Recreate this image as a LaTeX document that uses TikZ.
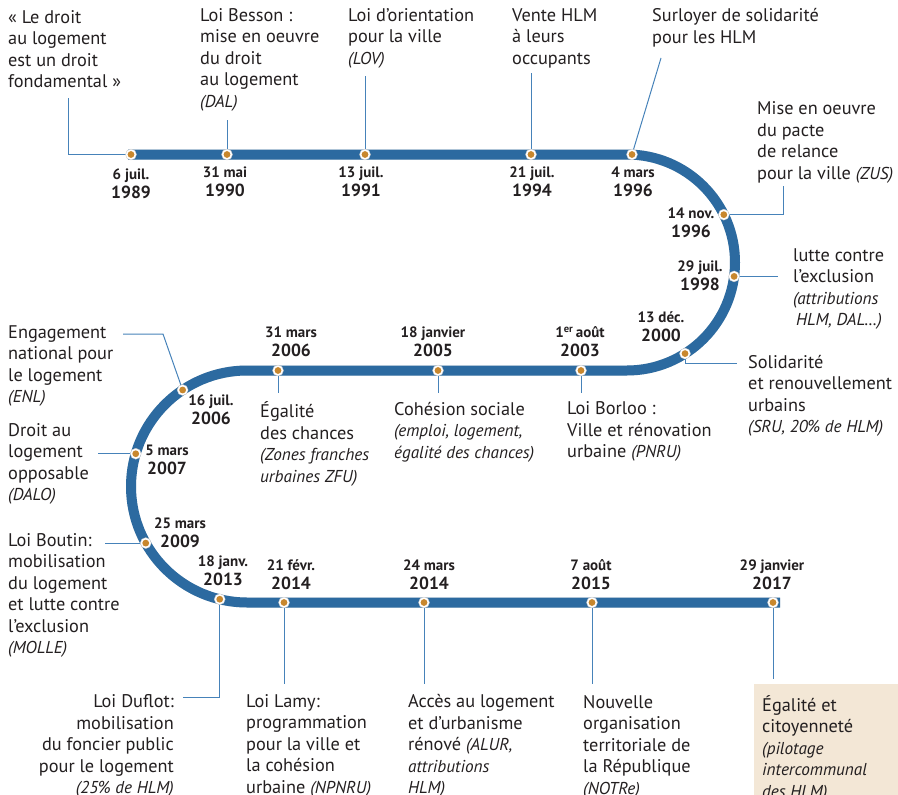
\documentclass[tikz,border=0pt]{standalone}
\usepackage{fontspec}
\setmainfont{PT Sans}
\usetikzlibrary{calc}
\definecolor{trackc}{RGB}{44,106,160}
\definecolor{connc}{RGB}{70,130,185}
\definecolor{dotc}{RGB}{200,135,45}
\definecolor{beige}{RGB}{243,231,214}
\definecolor{txt}{RGB}{35,31,32}
\newcommand{\dt}[2]{{\fontsize{15}{19}\selectfont #1}\\#2}
\newcommand{\ita}[1]{{\fontsize{17.2}{21.5}\selectfont\itshape #1}}
\begin{document}
\begin{tikzpicture}[x=1pt,y=-1pt,
  desc/.style={inner sep=0pt, align=left, anchor=north west, text=txt,
     font=\fontsize{18.3}{21.5}\selectfont, execute at begin node=\strut},
  descr/.style={desc, align=right, anchor=north east},
  dat/.style={inner sep=0pt, align=center, anchor=south, text=txt,
     font=\fontsize{17.5}{19}\selectfont\bfseries},
  dotn/.style={circle, fill=white, draw=black!25, line width=0.3pt, inner sep=0pt,
     minimum size=11pt, path picture={\fill[dotc] (path picture bounding box.center) circle (3.4pt);}},
  conn/.style={draw=connc, line width=1pt},
  trk/.style={draw=trackc, line width=10pt}]
\useasboundingbox (0,0) rectangle (898,795);
\fill[beige] (754,684) rectangle (898,795);
% track
\coordinate (s) at (128,154.5);
\coordinate (a) at (627,154.5);
\coordinate (c1) at (627,262.5);
\coordinate (b) at (247,370.5);
\coordinate (c2) at (247,486.5);
\coordinate (e) at (780,602.5);
\draw[line width=10pt, black, opacity=0.10, shift={(1,2.5)}]
  (s) -- (a) arc[start angle=90, end angle=-90, radius=108pt] -- (b)
  arc[start angle=90, end angle=270, radius=116pt] -- (e);
\draw[trk] (s) -- (a) arc[start angle=90, end angle=-90, radius=108pt] -- (b)
  arc[start angle=90, end angle=270, radius=116pt] -- (e);
% dot coordinates
\coordinate (p1) at (131,154.5);
\coordinate (p2) at (227,154.5);
\coordinate (p3) at (365,154.5);
\coordinate (p4) at (531,154.5);
\coordinate (p5) at (632,154.5);
\coordinate (p6) at ($(c1)+(26.3:108pt)$);
\coordinate (p7) at ($(c1)+(-7.4:108pt)$);
\coordinate (p8) at ($(c1)+(-57.5:108pt)$);
\coordinate (p9) at (581,370.5);
\coordinate (p10) at (438,370.5);
\coordinate (p11) at (278,370.5);
\coordinate (p12) at ($(c2)+(123.7:116pt)$);
\coordinate (p13) at ($(c2)+(163.6:116pt)$);
\coordinate (p14) at ($(c2)+(209.2:116pt)$);
\coordinate (p15) at ($(c2)+(256.4:116pt)$);
\coordinate (p16) at (284,602.5);
\coordinate (p17) at (424,602.5);
\coordinate (p18) at (592,602.5);
\coordinate (p19) at (773,602.5);
% connector free ends
\coordinate (k1) at (68,98);
\coordinate (k2) at (227,120);
\coordinate (k3) at (365,76);
\coordinate (k4) at (531,73);
\coordinate (k5) at (661,58);
\coordinate (k6) at (783,186);
\coordinate (k7) at ($(p7)+(44pt,0pt)$);
\coordinate (k8) at (737,363);
\coordinate (k9) at (581,393);
\coordinate (k10) at (438,393);
\coordinate (k11) at (278,393);
\coordinate (j12) at (163,334);
\coordinate (k12) at (123,334);
\coordinate (k13) at ($(p13)+(-38pt,0pt)$);
\coordinate (k14) at ($(p14)+(-41pt,0pt)$);
\coordinate (k15) at (183,697);
\coordinate (k16) at (284,684);
\coordinate (k17) at (424,684);
\coordinate (k18) at (592,684);
\coordinate (k19) at (773,679);
% connectors
\draw[conn] (p1) -| (k1);
\draw[conn] (p2) -- (k2);
\draw[conn] (p3) -- (k3);
\draw[conn] (p4) -- (k4);
\draw[conn] (p5) -- (k5);
\draw[conn] (p6) -| (k6);
\draw[conn] (p7) -- (k7);
\draw[conn] (p8) |- (k8);
\draw[conn] (p9) -- (k9);
\draw[conn] (p10) -- (k10);
\draw[conn] (p11) -- (k11);
\draw[conn] (p12) -- (j12) -- (k12);
\draw[conn] (p13) -- (k13);
\draw[conn] (p14) -- (k14);
\draw[conn] (p15) |- (k15);
\draw[conn] (p16) -- (k16);
\draw[conn] (p17) -- (k17);
\draw[conn] (p18) -- (k18);
\draw[conn] (p19) -- (k19);
% dots
\foreach \i in {1,...,19} { \node[dotn] (d\i) at (p\i) {}; }
% descriptions
\node[desc] (n1) at (8,10) {«~Le droit\\au logement\\est un droit\\fondamental~»};
\node[desc] (n2) at (200,8.3) {Loi Besson :\\mise en oeuvre\\du droit\\au logement\\\ita{(DAL)}};
\node[desc] (n3) at (348,8.3) {Loi d’orientation\\pour la ville\\\ita{(LOV)}};
\node[desc] (n4) at (512,8.3) {Vente HLM\\à leurs\\occupants};
\node[desc] (n5) at (652,8.3) {Surloyer de solidarité\\pour les HLM};
\node[desc] (n6) at (757,101.7) {Mise en oeuvre\\du pacte\\de relance\\pour la ville \ita{(ZUS)}};
\node[desc] (n7) at (793,248.3) {lutte contre\\l’exclusion\\\ita{(attributions}\\\hspace*{3pt}\ita{HLM, DAL…)}};
\node[desc] (n8) at (748,355) {Solidarité\\et renouvellement\\urbains\\\ita{(SRU, 20\% de HLM)}};
\node[desc] (n9) at (567,401.7) {Loi Borloo :\\Ville et rénovation\\urbaine \ita{(PNRU)}};
\node[desc] (n10) at (394,401.7) {Cohésion sociale\\\ita{(emploi, logement,}\\\ita{égalité des chances)}};
\node[desc] (n11) at (260,401.7) {Égalité\\des chances\\\ita{(Zones franches}\\\ita{urbaines ZFU)}};
\node[desc] (n12) at (8,325) {Engagement\\national pour\\le logement\\\ita{(ENL)}};
\node[desc] (n13) at (8,423.3) {Droit au\\logement\\opposable\\\ita{(DALO)}};
\node[desc] (n14) at (8,533.3) {Loi Boutin:\\mobilisation\\du logement\\et lutte contre\\l’exclusion\\\ita{(MOLLE)}};
\node[descr] (n15) at (174,694.3) {Loi Duflot:\\mobilisation\\du foncier public\\pour le logement\\\ita{(25\% de HLM)}};
\node[desc] (n16) at (246,694.3) {Loi Lamy:\\programmation\\pour la ville et\\la cohésion\\urbaine \ita{(NPNRU)}};
\node[desc] (n17) at (408,694.3) {Accès au logement\\et d’urbanisme\\rénové \ita{(ALUR,}\\\ita{attributions}\\\ita{HLM)}};
\node[desc] (n18) at (583,695) {Nouvelle\\organisation\\territoriale de\\la République\\\ita{(NOTRe)}};
\node[desc] (n19) at (762,695) {Égalité et\\citoyenneté\\\ita{(pilotage}\\\ita{intercommunal}\\\ita{des HLM)}};
% dates
\node[dat] (t1) at (131,199.3) {\dt{6 juil.}{1989}};
\node[dat] (t2) at (225,196.7) {\dt{31 mai}{1990}};
\node[dat] (t3) at (361,196.7) {\dt{13 juil.}{1991}};
\node[dat] (t4) at (532,196.7) {\dt{21 juil.}{1994}};
\node[dat] (t5) at (633,196.7) {\dt{4 mars}{1996}};
\node[dat] (t6) at (691,237.7) {\dt{14 nov.}{1996}};
\node[dat] (t7) at (700,290.7) {\dt{29 juil.}{1998}};
\node[dat] (t8) at (661,341.7) {\dt{13 déc.}{2000}};
\node[dat] (t9) at (580,356.7) {\dt{1\textsuperscript{er}\,août}{2003}};
\node[dat] (t10) at (433,356.7) {\dt{18 janvier}{2005}};
\node[dat] (t11) at (291,356.7) {\dt{31 mars}{2006}};
\node[dat] (t12) at (211,425) {\dt{16 juil.}{2006}};
\node[dat] (t13) at (167,475) {\dt{5 mars}{2007}};
\node[dat] (t14) at (180,548.3) {\dt{25 mars}{2009}};
\node[dat] (t15) at (223,586) {\dt{18 janv.}{2013}};
\node[dat] (t16) at (291,590) {\dt{21 févr.}{2014}};
\node[dat] (t17) at (429,590) {\dt{24 mars}{2014}};
\node[dat] (t18) at (591,590) {\dt{7 août}{2015}};
\node[dat] (t19) at (772,590) {\dt{29 janvier}{2017}};
\end{tikzpicture}
\end{document}
